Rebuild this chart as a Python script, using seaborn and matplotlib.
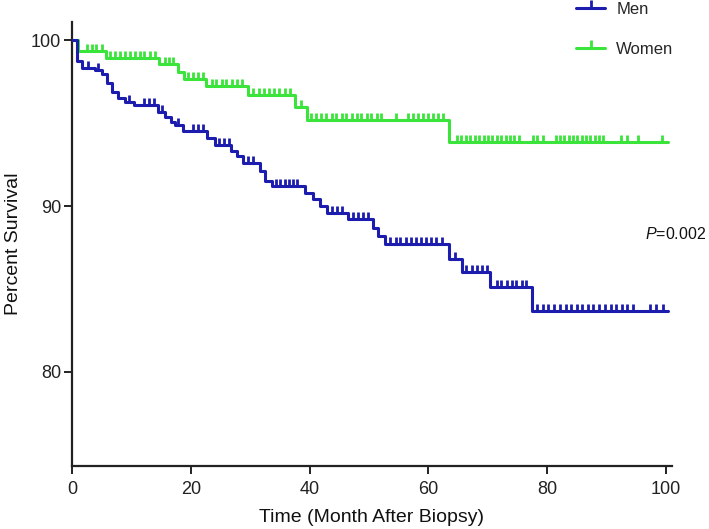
import numpy as np
import pandas as pd
import matplotlib
matplotlib.use("Agg")
import matplotlib.pyplot as plt
from matplotlib.lines import Line2D
import seaborn as sns

# Kaplan-Meier step points (time in months, survival in %)
men_t = [0, 0.9, 1.7, 3.8, 5.0, 5.9, 6.7, 7.7, 8.9, 10.5, 14.5, 15.6, 16.7, 17.3,
         18.7, 22.8, 24.0, 26.8, 27.7, 28.8, 31.6, 32.5, 33.6, 39.3, 40.5, 41.7,
         42.9, 46.5, 50.6, 51.6, 52.7, 63.5, 65.6, 70.4, 77.5, 100.4]
men_s = [100, 98.75, 98.35, 98.2, 98.0, 97.4, 96.9, 96.5, 96.3, 96.1, 95.7, 95.35,
         95.1, 94.9, 94.55, 94.1, 93.7, 93.35, 93.0, 92.6, 92.1, 91.5, 91.2, 90.8,
         90.4, 90.0, 89.6, 89.2, 88.7, 88.2, 87.7, 86.8, 86.0, 85.1, 83.65, 83.65]

women_t = [0, 1.0, 5.8, 14.6, 17.8, 18.9, 22.6, 29.6, 37.5, 39.6, 63.5, 100.4]
women_s = [100, 99.35, 98.92, 98.58, 98.12, 97.69, 97.26, 96.70, 96.01, 95.22,
           93.85, 93.85]

# censored observations (tick marks)
men_cens = [2.7, 4.3, 9.6, 12.1, 13.0, 13.8, 15.1, 17.9, 20.4, 21.2, 22.0, 24.8,
            25.6, 26.4, 29.6, 30.4, 34.4, 35.1, 35.8, 36.5, 37.2, 37.9, 43.7, 44.6,
            45.4, 47.3, 48.1, 49.0, 49.8, 53.6, 54.5, 55.3, 56.2, 57.0, 57.9, 58.7,
            59.6, 60.4, 61.3, 62.3, 64.5, 66.4, 67.3, 68.2, 69.0, 69.8, 71.5, 72.3,
            73.2, 74.0, 74.8, 75.7, 76.5, 78.3, 79.3, 80.2, 81.2, 82.1, 83.1, 84.0,
            85.0, 85.9, 86.9, 87.8, 88.8, 89.7, 90.7, 91.6, 92.6, 93.5, 94.5, 97.3,
            98.4, 99.5]
women_cens = [2.5, 3.3, 4.1, 5.0, 6.4, 7.2, 8.1, 8.9, 9.8, 10.6, 11.4, 12.2, 13.1,
              14.0, 15.7, 16.4, 17.0, 19.5, 20.4, 21.2, 22.0, 23.5, 24.3, 25.2, 26.0,
              26.9, 27.7, 28.6, 30.5, 31.4, 32.3, 33.2, 34.0, 34.9, 35.8, 36.7, 38.5,
              40.3, 41.1, 42.0, 42.8, 43.7, 44.5, 45.4, 46.2, 47.1, 47.9, 48.7, 49.6,
              50.4, 51.3, 52.0, 54.6, 56.6, 57.4, 58.3, 59.1, 60.0, 60.8, 61.7, 62.5,
              64.8, 65.5, 66.3, 67.0, 67.8, 68.5, 69.3, 70.0, 70.8, 71.5, 72.3, 73.0,
              73.8, 74.5, 75.3, 77.6, 78.3, 79.3, 81.5, 82.2, 82.9, 83.6, 84.4, 85.1,
              85.8, 86.5, 87.2, 88.0, 88.7, 89.4, 92.5, 93.4, 95.3, 99.3]

groups = ["Women", "Men"]
colors = {"Men": "#1c1cae", "Women": "#3be43b"}


def at_time(t, s, c):
    idx = np.searchsorted(t, c, side="right") - 1
    return np.asarray(s)[idx]


steps = pd.concat([
    pd.DataFrame({"time": women_t, "surv": women_s, "group": "Women"}),
    pd.DataFrame({"time": men_t, "surv": men_s, "group": "Men"}),
])
cens = pd.concat([
    pd.DataFrame({"time": women_cens, "surv": at_time(women_t, women_s, women_cens), "group": "Women"}),
    pd.DataFrame({"time": men_cens, "surv": at_time(men_t, men_s, men_cens), "group": "Men"}),
])

sns.set_style("white")
plt.rcParams["font.family"] = ["Liberation Sans", "DejaVu Sans"]
plt.rcParams["mathtext.fontset"] = "custom"
plt.rcParams["mathtext.rm"] = "Liberation Sans"
plt.rcParams["mathtext.it"] = "Liberation Sans:italic"

fig = plt.figure(figsize=(7.09, 5.29), dpi=100)
ax = fig.add_axes([0.1016, 0.119, 0.846, 0.839])

for g in groups:
    d = steps[steps.group == g]
    sns.lineplot(data=d, x="time", y="surv", color=colors[g], linewidth=2.2,
                 drawstyle="steps-post", ax=ax, legend=False, zorder=3)
    c = cens[cens.group == g]
    sns.scatterplot(data=c, x="time", y="surv", marker=2, s=22, linewidth=2.0,
                    color=colors[g], edgecolor=colors[g], ax=ax, legend=False, zorder=3)

ax.set_xlim(0, 101)
ax.set_ylim(74.3, 101.1)
ax.set_xticks([0, 20, 40, 60, 80, 100])
ax.set_yticks([80, 90, 100])
ax.set_xlabel("Time (Month After Biopsy)", fontsize=14, color="#111111", labelpad=8)
ax.set_ylabel("Percent Survival", fontsize=14, color="#111111", labelpad=6)
ax.tick_params(axis="both", direction="out", length=6, width=1.4, labelsize=13,
               colors="#222222", pad=2, bottom=True, left=True)
ax.tick_params(axis="x", pad=5)
for side in ["top", "right"]:
    ax.spines[side].set_visible(False)
for side in ["left", "bottom"]:
    ax.spines[side].set_linewidth(1.6)
    ax.spines[side].set_color("#222222")

ax.text(96.5, 88.3, "$P$=0.002", fontsize=11.5, va="center", ha="left", color="#111111")

handles = [Line2D([0], [0], color=colors[g], linewidth=2.2, marker=2, markersize=6,
                  markeredgewidth=2.0) for g in ["Men", "Women"]]
fig.legend(handles, ["Men", "Women"], loc="upper left", bbox_to_anchor=(0.813, 0.997),
           frameon=False, fontsize=12, handlelength=1.7, handletextpad=0.7,
           labelspacing=1.5, borderpad=0, borderaxespad=0)

fig.savefig("out.png", dpi=100)
plt.close(fig)
